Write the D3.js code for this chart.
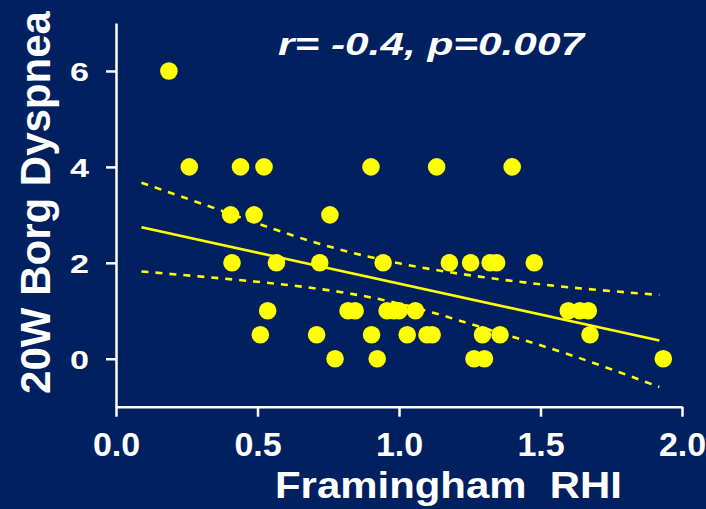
<!DOCTYPE html>
<html>
<head>
<meta charset="utf-8">
<script src="https://cdn.jsdelivr.net/npm/d3@7"></script>
<style>
  html, body { margin: 0; padding: 0; background: #002060; }
  svg { display: block; }
  text { font-family: 'Liberation Sans', Arial, sans-serif; font-weight: bold; fill: #fff; }
</style>
</head>
<body>
<svg id="chart" width="706" height="509"></svg>
<script>
// Framingham RHI vs 20W Borg dyspnea
const rhi = [
  0.187,
  0.259, 0.44, 0.523, 0.901, 1.133, 1.40,
  0.405, 0.488, 0.756,
  0.41, 0.567, 0.72, 0.944, 1.178, 1.253, 1.322, 1.345, 1.478,
  0.536, 0.82, 0.845, 0.958, 0.982, 1.0, 1.058, 1.598, 1.639, 1.669,
  0.51, 0.709, 0.903, 1.029, 1.099, 1.117, 1.295, 1.357, 1.675,
  0.774, 0.923, 1.265, 1.302, 1.934
]
const borg = [
  6,
  4, 4, 4, 4, 4, 4,
  3, 3, 3,
  2, 2, 2, 2, 2, 2, 2, 2, 2,
  1, 1, 1, 1, 1, 1, 1, 1, 1, 1,
  0.5, 0.5, 0.5, 0.5, 0.5, 0.5, 0.5, 0.5, 0.5,
  0, 0, 0, 0, 0
]
// fitted line and 95% band
const fitX = [0.09, 1.92]
const fitY = [2.74, 0.38]
const bandX = [0.09, 0.4, 0.7, 1.0, 1.3, 1.6, 1.92]
const bandUpper = [3.67, 3.03, 2.43, 1.99, 1.70, 1.49, 1.33]
const bandLower = [1.82, 1.66, 1.47, 1.15, 0.64, 0.09, -0.59]
const xTicks = [0, 0.5, 1, 1.5, 2]
const yTicks = [0, 2, 4, 6]
const statLabel = 'r= -0.4, p=0.007'

const svg = d3.select('#chart')
const yellow = '#ffff00'

svg.append('rect').attr('width', 706).attr('height', 509).attr('fill', '#002060')

const x = d3.scaleLinear().domain([0, 2]).range([116, 682])
const y = d3.scaleLinear().domain([-1, 7]).range([406.7, 23])

// axes
const xAxis = svg.append('g')
  .attr('transform', 'translate(0,' + y(-1) + ')')
  .call(d3.axisBottom(x).tickValues(xTicks).tickFormat(d3.format('.1f')).tickSize(10).tickSizeOuter(0))
const yAxis = svg.append('g')
  .attr('transform', 'translate(' + x(0) + ',0)')
  .call(d3.axisLeft(y).tickValues(yTicks).tickFormat(d3.format('d')).tickSize(10).tickSizeOuter(0))

for (let ax of [xAxis, yAxis]) {
  ax.select('.domain').attr('stroke', '#fff').attr('stroke-width', 2.5)
  ax.selectAll('.tick line').attr('stroke', '#fff').attr('stroke-width', 2.5)
  ax.selectAll('.tick text').attr('fill', '#fff').style('font-family', null)
}
xAxis.selectAll('.tick text')
  .attr('font-size', 34).attr('dy', 0).attr('y', 49)
yAxis.selectAll('.tick text')
  .attr('font-size', 26).attr('dy', 0).attr('x', -27).attr('y', 9.5)
  .attr('textLength', 19).attr('lengthAdjust', 'spacingAndGlyphs')

// confidence band and fit
const band = d3.line().x(d => x(d[0])).y(d => y(d[1])).curve(d3.curveNatural)
for (let b of [bandUpper, bandLower]) {
  svg.append('path')
    .datum(bandX.map((v, i) => [v, b[i]]))
    .attr('d', band)
    .attr('fill', 'none')
    .attr('stroke', yellow)
    .attr('stroke-width', 2.6)
    .attr('stroke-dasharray', '7,7')
}
svg.append('path')
  .datum(fitX.map((v, i) => [v, fitY[i]]))
  .attr('d', d3.line().x(d => x(d[0])).y(d => y(d[1])))
  .attr('fill', 'none')
  .attr('stroke', yellow)
  .attr('stroke-width', 2.6)

// points
svg.append('g').selectAll('circle')
  .data(rhi.map((v, i) => ({rhi: v, borg: borg[i]})))
  .enter()
  .append('circle')
  .attr('cx', d => x(d.rhi))
  .attr('cy', d => y(d.borg))
  .attr('r', 8.8)
  .attr('fill', yellow)

// labels
svg.append('text')
  .attr('x', 278).attr('y', 55)
  .attr('font-size', 31)
  .style('font-style', 'italic')
  .attr('textLength', 306).attr('lengthAdjust', 'spacingAndGlyphs')
  .text(statLabel)

svg.append('text')
  .attr('x', 275).attr('y', 498)
  .attr('font-size', 37)
  .attr('textLength', 347).attr('lengthAdjust', 'spacingAndGlyphs')
  .style('white-space', 'pre')
  .text('Framingham  RHI')

svg.append('text')
  .attr('transform', 'translate(50,202.5) rotate(-90)')
  .attr('text-anchor', 'middle')
  .attr('font-size', 42)
  .text('20W Borg Dyspnea')
</script>
</body>
</html>
